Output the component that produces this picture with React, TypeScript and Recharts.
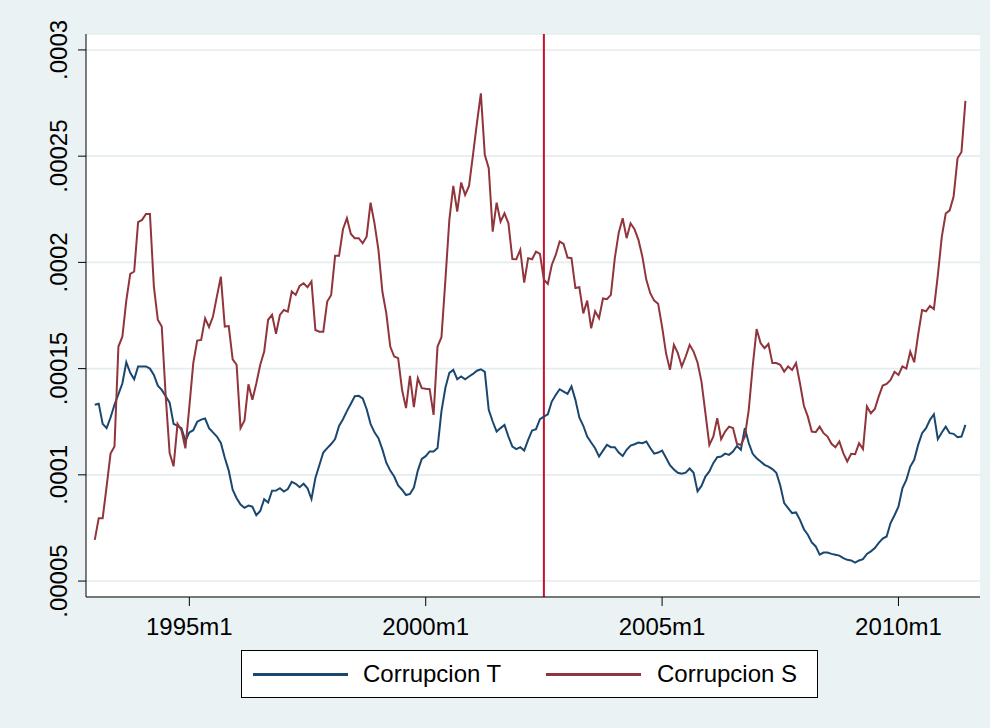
import { LineChart, Line, XAxis, YAxis, CartesianGrid, ReferenceLine } from "recharts";

// monthly series, 1993m1 .. 2011m6, values in units of 1e-5
const START_YEAR = 1993;

const corrupcionT = [
  13.3, 13.35, 12.4, 12.2, 12.7, 13.3, 13.8, 14.3, 15.3, 14.8, 14.5, 15.1,
  15.1, 15.1, 15.0, 14.7, 14.2, 14.0, 13.7, 13.4, 12.4, 12.3, 12.2, 11.6,
  12.0, 12.1, 12.5, 12.6, 12.65, 12.2, 12.0, 11.8, 11.5, 10.8, 10.2, 9.3,
  8.9, 8.6, 8.45, 8.55, 8.5, 8.1, 8.3, 8.85, 8.7, 9.25, 9.26, 9.37,
  9.21, 9.33, 9.67, 9.58, 9.42, 9.58, 9.37, 8.86, 9.85, 10.45, 11.05, 11.26,
  11.45, 11.68, 12.3, 12.62, 13.0, 13.35, 13.7, 13.72, 13.6, 13.1, 12.4, 12.0,
  11.73, 11.2, 10.57, 10.2, 9.92, 9.5, 9.3, 9.05, 9.1, 9.4, 10.2, 10.75,
  10.88, 11.1, 11.1, 11.26, 13.0, 14.1, 14.8, 14.94, 14.5, 14.63, 14.5, 14.63,
  14.75, 14.9, 14.97, 14.85, 13.06, 12.51, 12.04, 12.2, 12.35, 11.8, 11.33, 11.21,
  11.3, 11.14, 11.65, 12.09, 12.15, 12.62, 12.74, 12.85, 13.45, 13.76, 14.03, 13.92,
  13.81, 14.16, 13.53, 12.7, 12.31, 11.8, 11.52, 11.25, 10.86, 11.14, 11.41, 11.3,
  11.3, 11.05, 10.89, 11.18, 11.38, 11.44, 11.52, 11.49, 11.57, 11.26, 11.0, 11.05,
  11.14, 10.8, 10.45, 10.25, 10.1, 10.05, 10.1, 10.3, 10.1, 9.22, 9.48, 9.92,
  10.16, 10.55, 10.83, 10.86, 11.0, 10.94, 11.1, 11.36, 11.18, 12.2, 11.5, 10.99,
  10.78, 10.63, 10.47, 10.39, 10.27, 10.1, 9.5, 8.67, 8.43, 8.2, 8.23, 7.88,
  7.44, 7.18, 6.82, 6.63, 6.24, 6.34, 6.34, 6.28, 6.24, 6.2, 6.08, 6.0,
  5.97, 5.87, 5.97, 6.03, 6.28, 6.4, 6.55, 6.8, 7.0, 7.1, 7.73, 8.1,
  8.5, 9.37, 9.76, 10.39, 10.71, 11.41, 11.96, 12.2, 12.59, 12.85, 11.68, 11.99,
  12.27, 11.96, 11.93, 11.77, 11.8, 12.35,
];

const corrupcionS = [
  6.94, 7.96, 7.96, 9.45, 11.0, 11.33, 16.04, 16.5, 18.2, 19.46, 19.57, 21.9,
  22.0, 22.28, 22.28, 18.86, 17.3, 16.98, 13.7, 11.03, 10.4, 12.4, 12.1, 11.25,
  13.2, 15.26, 16.32, 16.35, 17.37, 16.95, 17.45, 18.4, 19.33, 16.98, 17.0, 15.44,
  15.18, 12.2, 12.56, 14.26, 13.53, 14.3, 15.18, 15.8, 17.3, 17.53, 16.64, 17.53,
  17.76, 17.68, 18.63, 18.47, 18.89, 19.02, 18.83, 19.1, 16.82, 16.74, 16.74, 18.16,
  18.47, 20.31, 20.31, 21.56, 22.08, 21.34, 21.14, 21.14, 20.9, 21.21, 22.81, 21.84,
  20.59, 18.63, 17.6, 16.04, 15.57, 15.49, 14.0, 13.14, 14.66, 13.19, 14.55, 14.08,
  14.05, 14.03, 12.82, 16.04, 16.48, 19.18, 22.0, 23.6, 22.39, 23.76, 23.18, 23.6,
  25.06, 26.55, 27.96, 25.06, 24.43, 21.45, 22.81, 21.92, 22.31, 21.84, 20.16, 20.15,
  20.59, 19.05, 20.2, 20.15, 20.51, 20.4, 19.18, 18.99, 19.88, 20.35, 20.98, 20.87,
  20.23, 20.2, 18.79, 18.83, 17.6, 18.2, 16.9, 17.7, 17.37, 18.3, 18.27, 18.47,
  20.2, 21.4, 22.08, 21.14, 21.84, 21.56, 21.06, 20.27, 19.18, 18.55, 18.2, 18.05,
  16.98, 15.73, 14.94, 16.12, 15.73, 15.1, 15.57, 16.12, 15.8, 15.29, 14.39, 12.9,
  11.41, 11.8, 12.67, 11.68, 12.04, 12.27, 12.2, 11.46, 11.41, 11.8, 13.06, 15.1,
  16.86, 16.2, 15.96, 16.16, 15.26, 15.26, 15.18, 14.86, 15.1, 14.94, 15.26, 14.31,
  13.25, 12.74, 12.04, 12.01, 12.27, 11.96, 11.8, 11.46, 11.3, 11.57, 11.02, 10.63,
  10.99, 10.97, 11.49, 11.21, 13.22, 12.9, 13.1, 13.69, 14.2, 14.28, 14.47, 14.85,
  14.7, 15.1, 15.0, 15.8, 15.3, 16.6, 17.76, 17.7, 17.95, 17.8, 19.4, 21.2,
  22.3, 22.45, 23.1, 24.9, 25.2, 27.6,
];

const yTicks = [5, 10, 15, 20, 25, 30];
const yTickLabels = [".00005", ".0001", ".00015", ".0002", ".00025", ".0003"];
const xTicks = [24, 84, 144, 204];
const xTickLabels = ["1995m1", "2000m1", "2005m1", "2010m1"];
const breakMonth = 114; // 2002m7

const BLUE = "#1a476f";
const RED = "#90353b";
const FONT = "Arial, 'Liberation Sans', Helvetica, sans-serif";

const data = corrupcionT.map((v, i) => ({
  t: i,
  month: `${START_YEAR + Math.floor(i / 12)}m${(i % 12) + 1}`,
  T: v,
  S: corrupcionS[i],
}));

function YTick(props: any) {
  const { y, payload } = props;
  const label = yTickLabels[yTicks.indexOf(payload.value)];
  return (
    <text
      x={67}
      y={y}
      transform={`rotate(-90 67 ${y})`}
      textAnchor="middle"
      fontSize={24}
      fontFamily={FONT}
      fill="#000"
    >
      {label}
    </text>
  );
}

function XTick(props: any) {
  const { x, payload } = props;
  const label = xTickLabels[xTicks.indexOf(payload.value)];
  return (
    <text x={x} y={635} textAnchor="middle" fontSize={24} fontFamily={FONT} fill="#000">
      {label}
    </text>
  );
}

export default function App() {
  return (
    <div
      style={{
        position: "absolute",
        top: 0,
        left: 0,
        width: 990,
        height: 728,
        background: "#eaf2f3",
        fontFamily: FONT,
      }}
    >
      <LineChart width={990} height={728} data={data} margin={{ top: 34, right: 10, left: 0, bottom: 91 }}>
        <CartesianGrid vertical={false} stroke="#e4edef" strokeWidth={1.6} fill="#ffffff" />
        <XAxis
          dataKey="t"
          type="number"
          domain={[-2.23, 224.7]}
          ticks={xTicks}
          allowDataOverflow
          height={40}
          tickSize={9}
          axisLine={{ stroke: "#000" }}
          tickLine={{ stroke: "#000" }}
          tick={(p: any) => <XTick {...p} />}
        />
        <YAxis
          type="number"
          domain={[4.25, 30.75]}
          ticks={yTicks}
          allowDataOverflow
          width={86}
          tickSize={8}
          axisLine={{ stroke: "#000" }}
          tickLine={{ stroke: "#000" }}
          tick={(p: any) => <YTick {...p} />}
        />
        <ReferenceLine x={breakMonth} stroke="#c8102e" strokeWidth={2} />
        <Line type="linear" dataKey="T" stroke={BLUE} strokeWidth={2} dot={false} isAnimationActive={false} />
        <Line type="linear" dataKey="S" stroke={RED} strokeWidth={2} dot={false} isAnimationActive={false} />
      </LineChart>
      <div
        style={{
          position: "absolute",
          left: 241,
          top: 650,
          width: 577,
          height: 48,
          boxSizing: "border-box",
          background: "#fff",
          border: "1px solid #000",
          fontSize: 24,
          color: "#000",
        }}
      >
        <div style={{ position: "absolute", left: 11, top: 21.5, width: 95, height: 3, background: BLUE }} />
        <div style={{ position: "absolute", left: 121, top: 0, lineHeight: "46px" }}>Corrupcion T</div>
        <div style={{ position: "absolute", left: 304, top: 21.5, width: 95, height: 3, background: RED }} />
        <div style={{ position: "absolute", left: 415, top: 0, lineHeight: "46px" }}>Corrupcion S</div>
      </div>
    </div>
  );
}
